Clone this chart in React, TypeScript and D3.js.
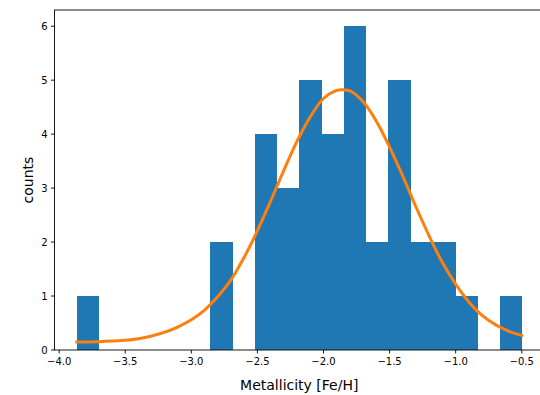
import React from "react";
import * as d3 from "d3";

// Histogram of metallicities: 20 bins between the sample min and max
const binEdges = [
  -3.867, -3.699, -3.530, -3.362, -3.194, -3.025, -2.857, -2.689, -2.520, -2.352,
  -2.184, -2.015, -1.847, -1.679, -1.510, -1.342, -1.174, -1.005, -0.837, -0.668, -0.500,
];
const binCounts = [1, 0, 0, 0, 0, 0, 2, 0, 4, 3, 5, 4, 6, 2, 5, 2, 2, 1, 0, 1];

// Fitted Gaussian model, sampled along the metallicity axis
const fitX = [
  -3.867, -3.7, -3.6, -3.5, -3.4, -3.3, -3.2, -3.1, -3.0, -2.9, -2.8, -2.7, -2.6, -2.5,
  -2.4, -2.3, -2.2, -2.1, -2.0, -1.9, -1.85, -1.8, -1.7, -1.6, -1.5, -1.4, -1.3, -1.2,
  -1.1, -1.0, -0.9, -0.8, -0.7, -0.6, -0.5,
];
const fitY = [
  0.15, 0.155, 0.165, 0.18, 0.21, 0.26, 0.33, 0.43, 0.56, 0.74, 0.99, 1.3, 1.72, 2.21,
  2.76, 3.33, 3.87, 4.32, 4.66, 4.81, 4.82, 4.8, 4.6, 4.24, 3.76, 3.22, 2.65, 2.11,
  1.62, 1.22, 0.89, 0.64, 0.47, 0.35, 0.27,
];

const xTicks = [-4.0, -3.5, -3.0, -2.5, -2.0, -1.5, -1.0, -0.5];
const yTicks = [0, 1, 2, 3, 4, 5, 6];

const W = 540;
const H = 395;
const margin = { left: 54.5, right: -4, top: 10, bottom: 45 };
const FONT = "DejaVu Sans, sans-serif";

export default function App() {
  const x0 = margin.left;
  const x1 = W - margin.right;
  const y0 = H - margin.bottom;
  const y1 = margin.top;

  const xMin = binEdges[0];
  const xMax = binEdges[binEdges.length - 1];
  const pad = (xMax - xMin) * 0.05;
  const x = d3.scaleLinear().domain([xMin - pad, xMax + pad]).range([x0, x1]);
  const y = d3.scaleLinear().domain([0, 6.3]).range([y0, y1]);

  const line = d3
    .line<number>()
    .x((_, i) => x(fitX[i]))
    .y((d) => y(d))
    .curve(d3.curveCatmullRom.alpha(0.5));

  return (
    <svg
      width={W}
      height={H}
      style={{ position: "absolute", left: 0, top: 0, background: "#fff" }}
      fontFamily={FONT}
    >
      <g shapeRendering="crispEdges">
        {binCounts.map((c, i) =>
          c > 0 ? (
            <rect
              key={i}
              x={x(binEdges[i])}
              y={y(c)}
              width={x(binEdges[i + 1]) - x(binEdges[i]) + 0.5}
              height={y0 - y(c)}
              fill="#1f77b4"
            />
          ) : null
        )}
      </g>
      <path
        d={line(fitY) || ""}
        fill="none"
        stroke="#ff7f0e"
        strokeWidth={3}
        strokeLinejoin="round"
        strokeLinecap="square"
      />
      {/* spines */}
      <rect
        x={x0}
        y={y1}
        width={x1 - x0}
        height={y0 - y1}
        fill="none"
        stroke="#000"
        strokeWidth={0.9}
      />
      {/* x axis ticks */}
      {xTicks.map((t) => (
        <g key={t} transform={`translate(${x(t)},${y0})`}>
          <line y2={3.5} stroke="#000" strokeWidth={0.9} />
          <text y={15} textAnchor="middle" fontSize={10} fill="#000">
            {t.toFixed(1).replace("-", "\u2212")}
          </text>
        </g>
      ))}
      {/* y axis ticks */}
      {yTicks.map((t) => (
        <g key={t} transform={`translate(${x0},${y(t)})`}>
          <line x2={-3.5} stroke="#000" strokeWidth={0.9} />
          <text x={-7} dy="0.35em" textAnchor="end" fontSize={10} fill="#000">
            {t}
          </text>
        </g>
      ))}
      <text
        x={(x0 + x1) / 2}
        y={390}
        textAnchor="middle"
        fontSize={14}
        fill="#000"
      >
        Metallicity [Fe/H]
      </text>
      <text
        transform={`translate(33,${(y0 + y1) / 2}) rotate(-90)`}
        textAnchor="middle"
        fontSize={14}
        fill="#000"
      >
        counts
      </text>
    </svg>
  );
}
